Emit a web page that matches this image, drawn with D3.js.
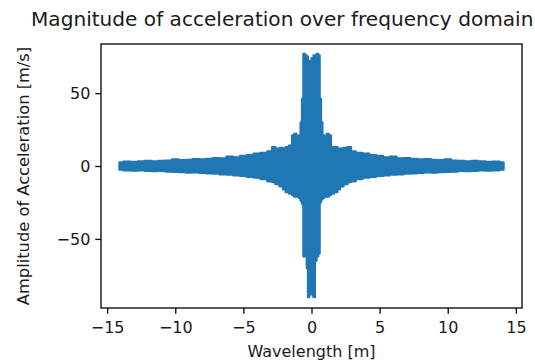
<!DOCTYPE html>
<html>
<head>
<meta charset="utf-8">
<script src="https://cdn.jsdelivr.net/npm/d3@7"></script>
<style>
  html, body { margin: 0; padding: 0; background: #fff; }
  svg { display: block; }
  text { font-family: "DejaVu Sans", sans-serif; fill: #1a1a1a; }
</style>
</head>
<body>
<svg id="chart" width="535" height="362"></svg>
<script>
// Wavelength positions [m] where the signal envelope was read
const wavelength = [-14.1,-13.5,-13,-12.5,-12,-11.5,-11,-10.5,-10,-9.5,-9,-8.5,-8,-7.5,-7,-6.5,-6,-5.5,-5,-4.5,-4,-3.5,-3,-2.8,-2.5,-2.2,-2,-1.8,-1.5,-1.35,-1.2,-1.0,-0.85,-0.75,-0.65,-0.55,-0.4,-0.3,-0.22,-0.12,-0.05,0.05,0.1,0.2,0.3,0.45,0.55,0.65,0.75,0.85,1.0,1.2,1.35,1.5,1.8,2,2.2,2.5,2.8,3,3.5,4,4.5,5,5.5,6,6.5,7,7.5,8,8.5,9,9.5,10,10.5,11,11.5,12,12.5,13,13.5,14.1];
// Upper envelope of acceleration amplitude [m/s]
const upperEnv = [2.5,3,2.8,3.2,3.5,3.2,3.6,3.8,4.5,4,4.3,4.8,4.5,5,5.5,5.3,6.5,6,7,7.5,8.5,9,10,13,12,12.5,12,13,14,21,22,20,21,30,46,77,76,75,72,72,71,74,73,76,75,77,76,46,30,21,20,22,21,13,13,12,12,12.5,13,10,9,8.5,7.5,7,6,6.5,5.3,5.5,5,4.5,4.8,4.3,4,4.5,3.8,3.6,3.2,3.5,3.2,2.8,3,2.5];
// Lower envelope of acceleration amplitude [m/s]
const lowerEnv = [-2.5,-3,-3.2,-3,-3.4,-3.5,-3.3,-3.8,-4,-4.2,-4.5,-4.4,-4.8,-5,-5.3,-5.8,-6,-6.5,-6.8,-7.5,-8,-9,-10.5,-11,-12.5,-14,-16,-18,-19,-20,-21,-21,-22,-24,-26,-62,-62,-70,-90,-88,-62,-62,-89,-90,-65,-62,-60,-25,-23,-22,-21,-21,-20,-19,-18,-16,-14,-12.5,-11,-10.5,-9,-8,-7.5,-6.8,-6.5,-6,-5.8,-5.3,-5,-4.8,-4.4,-4.5,-4.2,-4,-3.8,-3.3,-3.5,-3.4,-3,-3.2,-3,-2.5];
const xTicks = [-15,-10,-5,0,5,10,15];
const yTicks = [-50,0,50];
const titleText = "Magnitude of acceleration over frequency domain";
const xLabel = "Wavelength [m]";
const yLabel = "Amplitude of Acceleration [m/s]";

const svg = d3.select("#chart");
const m = {left: 101, top: 44, right: 13, bottom: 54};
const W = 535 - m.left - m.right, H = 362 - m.top - m.bottom;
const g = svg.append("g").attr("transform", `translate(${m.left},${m.top})`);

const x = d3.scaleLinear().domain([-15.45, 15.45]).range([0, W]);
const y = d3.scaleLinear().domain([-97.4, 83.7]).range([H, 0]);

const data = wavelength.map((w, i) => ({w, hi: upperEnv[i], lo: lowerEnv[i]}));
const area = d3.area().curve(d3.curveStep)
  .x(d => x(d.w)).y0(d => y(d.lo)).y1(d => y(d.hi));
g.append("path").datum(data).attr("d", area)
  .attr("fill", "#1f77b4").attr("stroke", "#1f77b4")
  .attr("stroke-width", 2.2).attr("stroke-linejoin", "round");

const fmt = d => d < 0 ? "\u2212" + Math.abs(d) : d;
const xAxis = d3.axisBottom(x).tickValues(xTicks).tickSize(5.7).tickPadding(8).tickFormat(fmt);
const yAxis = d3.axisLeft(y).tickValues(yTicks).tickSize(5.7).tickPadding(5).tickFormat(fmt);

const gx = g.append("g").attr("transform", `translate(0,${H})`).call(xAxis);
const gy = g.append("g").call(yAxis);
[gx, gy].forEach(a => {
  a.select(".domain").remove();
  a.selectAll(".tick line").attr("stroke", "#000").attr("stroke-width", 1.3);
  a.selectAll(".tick text").attr("font-size", 16).attr("fill", "#1a1a1a")
   .style("font-family", "DejaVu Sans");
});

g.append("rect").attr("x", 0).attr("y", 0).attr("width", W).attr("height", H)
  .attr("fill", "none").attr("stroke", "#000").attr("stroke-width", 1.3);

svg.append("text").attr("x", 31).attr("y", 26)
  .attr("text-anchor", "start").attr("font-size", 20.1).text(titleText);
svg.append("text").attr("x", m.left + W / 2).attr("y", 357)
  .attr("text-anchor", "middle").attr("font-size", 16).text(xLabel);
svg.append("text").attr("transform", `translate(29,${m.top + H / 2}) rotate(-90)`)
  .attr("text-anchor", "middle").attr("font-size", 16.3).text(yLabel);
</script>
</body>
</html>
